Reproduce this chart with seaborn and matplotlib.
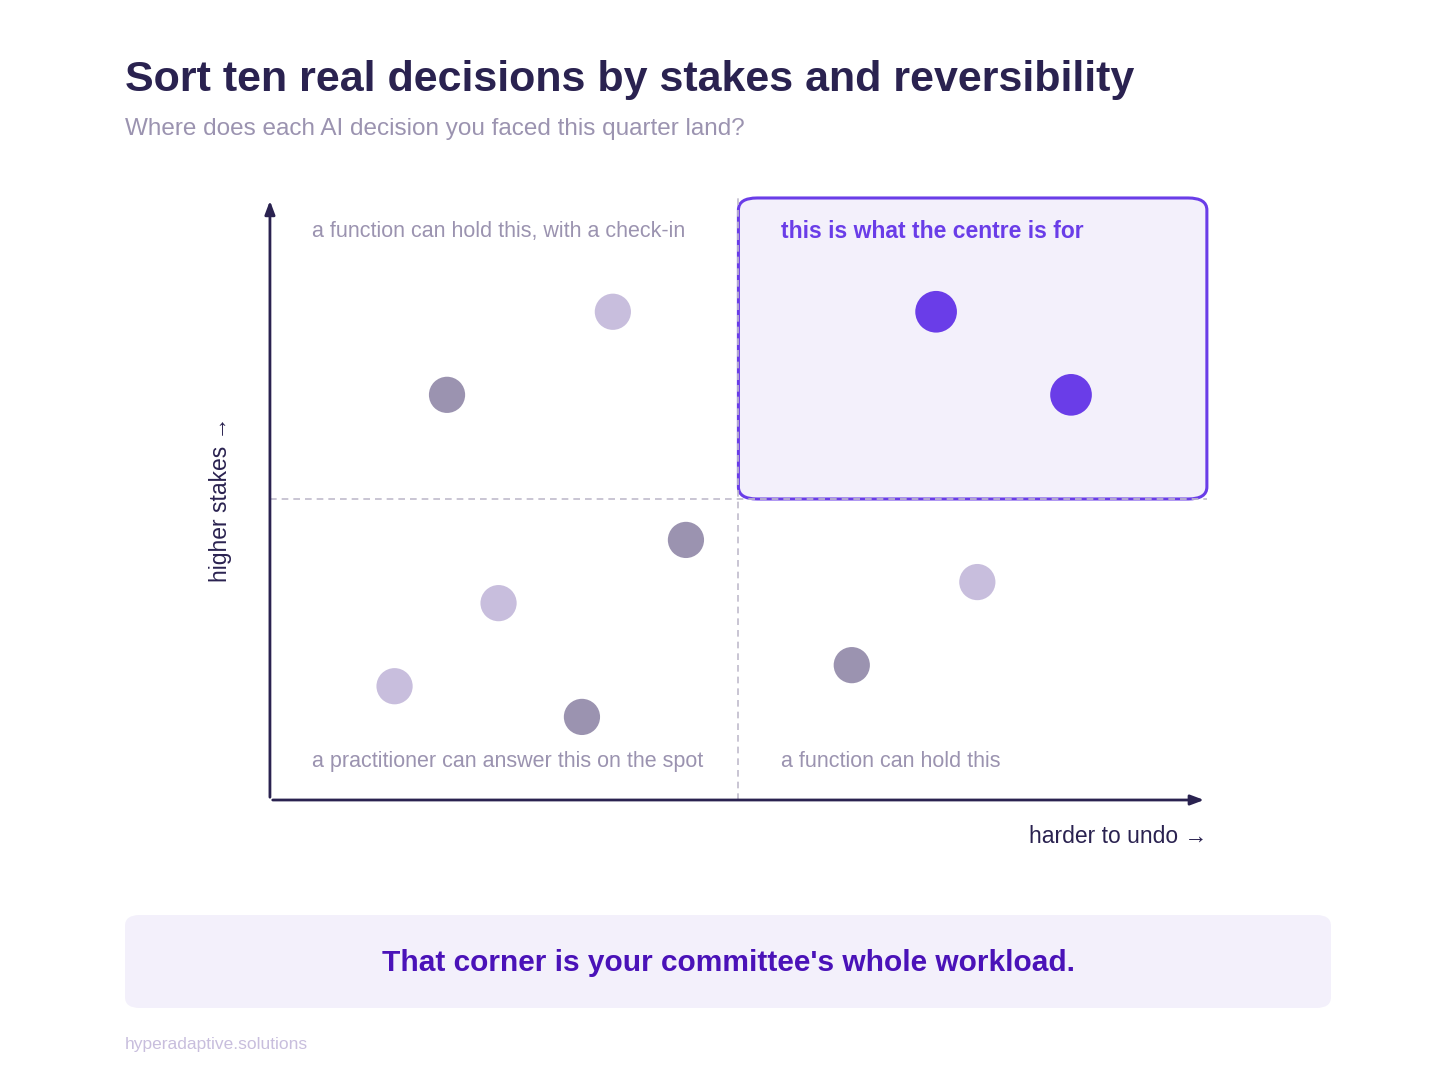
import matplotlib
matplotlib.use("Agg")
import matplotlib.pyplot as plt
import seaborn as sns
import pandas as pd
from matplotlib.patches import FancyBboxPatch

# decisions: reversibility (x) vs stakes (y), 0-10 scale
undo = [1.89, 3.66, 7.11, 8.55, 4.44, 2.44, 1.33, 3.33, 6.21, 7.55]
stakes = [6.73, 8.11, 8.11, 6.73, 4.32, 3.27, 1.89, 1.38, 2.24, 3.62]
group = ['dark', 'light', 'centre', 'centre', 'dark', 'light', 'light', 'dark', 'dark', 'light']

df = pd.DataFrame({'undo': undo, 'stakes': stakes, 'group': group})

sns.set_style("white")
plt.rcParams['font.family'] = ['Liberation Sans', 'DejaVu Sans']

NAVY = '#2a2250'
PURPLE = '#6a3de8'
palette = {'dark': '#9b93b0', 'light': '#c8bedd', 'centre': PURPLE}
sizes = {'dark': 680, 'light': 680, 'centre': 900}

fig = plt.figure(figsize=(14.56, 10.92), dpi=100)
ax = fig.add_axes([0.1854, 0.2674, 0.6435, 0.5513])
ax.set_xlim(0, 10)
ax.set_ylim(0, 10)

# highlighted quadrant
box = FancyBboxPatch((5, 5), 5, 5, boxstyle="round,pad=0,rounding_size=0.2",
                     fc='#f3f0fb', ec=PURPLE, lw=2.2, zorder=1, clip_on=False)
ax.add_patch(box)
ax.axvline(5, color='#c0bbcc', ls=(0, (4, 3)), lw=1.2, zorder=1.5)
ax.axhline(5, color='#c0bbcc', ls=(0, (4, 3)), lw=1.2, zorder=1.5)

sns.scatterplot(data=df, x='undo', y='stakes', hue='group', size='group',
                palette=palette, sizes=sizes, legend=False, linewidth=0, ax=ax, zorder=3)

for s in ax.spines.values():
    s.set_visible(False)
ax.set_xticks([])
ax.set_yticks([])
ax.set_xlabel('')
ax.set_ylabel('')

# axis arrows
ax.annotate('', xy=(10, 0), xytext=(0, 0), arrowprops=dict(arrowstyle='-|>,head_length=0.8,head_width=0.3',
            color=NAVY, lw=2), annotation_clip=False)
ax.annotate('', xy=(0, 10), xytext=(0, 0), arrowprops=dict(arrowstyle='-|>,head_length=0.8,head_width=0.3',
            color=NAVY, lw=2), annotation_clip=False)

lab = '#9b93b0'
ax.text(0.45, 9.45, 'a function can hold this, with a check-in', color=lab, fontsize=15.5, va='center')
ax.text(0.45, 0.64, 'a practitioner can answer this on the spot', color=lab, fontsize=15.5, va='center')
ax.text(5.45, 0.64, 'a function can hold this', color=lab, fontsize=15.5, va='center')
ax.text(5.45, 9.45, 'this is what the centre is for', color=PURPLE, fontsize=16.5, fontweight='bold', va='center')

ax.text(10, -0.6, 'harder to undo \u2192', color=NAVY, fontsize=16.5, ha='right', va='center',
        family=['Liberation Sans', 'DejaVu Sans'])
ax.text(-0.53, 5, 'higher stakes \u2192', color=NAVY, fontsize=16.5, rotation=90, ha='center', va='center')

# titles
fig.text(125 / 1456, 1 - 80 / 1092, 'Sort ten real decisions by stakes and reversibility',
         color=NAVY, fontsize=31, fontweight='bold', va='center')
fig.text(125 / 1456, 1 - 129 / 1092, 'Where does each AI decision you faced this quarter land?',
         color='#9b93b0', fontsize=17.5, va='center')

# bottom banner
banner = FancyBboxPatch((125 / 1456, 1 - 1008 / 1092), 1206 / 1456, 93 / 1092,
                        boxstyle="round,pad=0,rounding_size=0.01", transform=fig.transFigure,
                        fc='#f3f0fb', ec='none')
fig.patches.append(banner)
fig.text(728 / 1456, 1 - 963 / 1092, "That corner is your committee's whole workload.",
         color='#4a12b8', fontsize=21.5, fontweight='bold', ha='center', va='center')
fig.text(125 / 1456, 1 - 1044 / 1092, 'hyperadaptive.solutions', color='#c8bedd', fontsize=12.5, va='center')

fig.savefig('out.png', dpi=100, facecolor='white')
